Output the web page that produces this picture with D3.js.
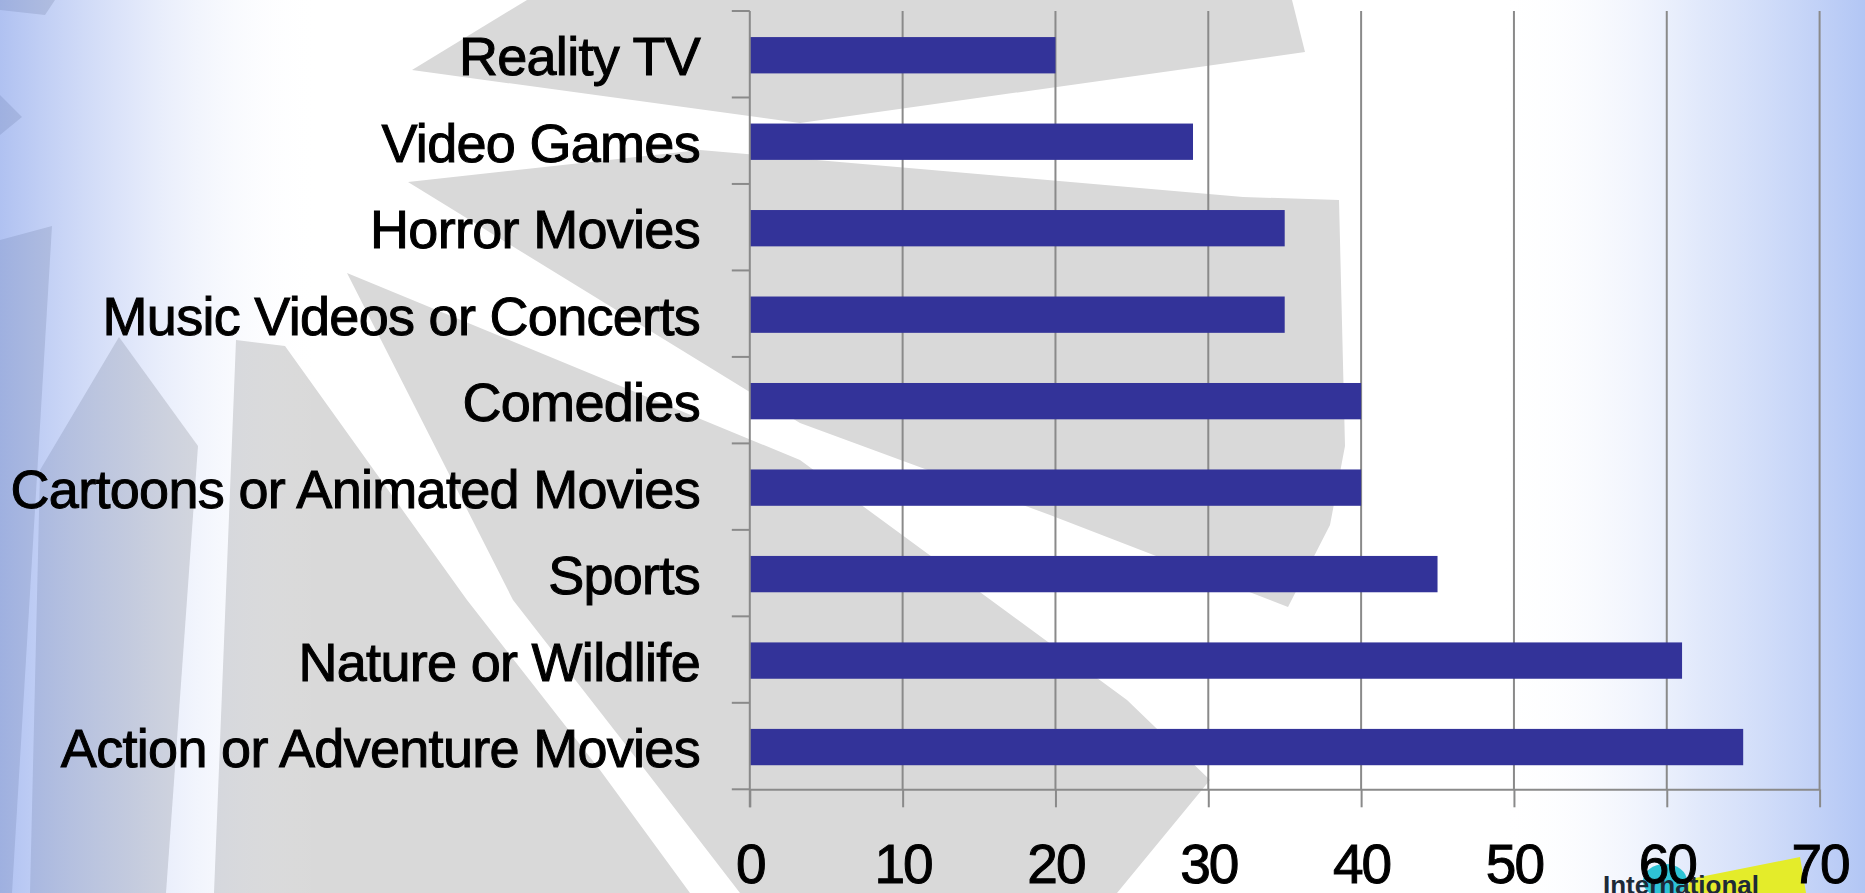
<!DOCTYPE html>
<html>
<head>
<meta charset="utf-8">
<title>Favourite kinds of programmes</title>
<script src="https://d3js.org/d3.v7.min.js"></script>
<style>
  body { margin: 0; overflow: hidden; background: #fff; }
  svg { display: block; }
  text { font-family: "Liberation Sans", Arial, sans-serif; }
</style>
</head>
<body>
<script>
  // data
  var categories = ["Reality TV", "Video Games", "Horror Movies", "Music Videos or Concerts",
                    "Comedies", "Cartoons or Animated Movies", "Sports", "Nature or Wildlife",
                    "Action or Adventure Movies"];
  var values = [20, 29, 35, 35, 40, 40, 45, 61, 65];
  var xTicks = [0, 10, 20, 30, 40, 50, 60, 70];

  var W = 1865, H = 893;
  var plotLeft = 749.8, plotRight = 1819.6, plotTop = 11, plotBottom = 789.3;

  var svg = d3.select("body").append("svg")
              .attr("width", W)
              .attr("height", H);

  // background: white slide with grey rays and blue edges
  var defs = svg.append("defs");
  var gl = defs.append("linearGradient").attr("id", "edgeL")
               .attr("gradientUnits", "userSpaceOnUse")
               .attr("x1", 0).attr("y1", 0).attr("x2", 320).attr("y2", 0);
  gl.append("stop").attr("offset", 0).attr("stop-color", "#6f8fe6").attr("stop-opacity", 0.55);
  gl.append("stop").attr("offset", 0.4).attr("stop-color", "#8aa4ec").attr("stop-opacity", 0.28);
  gl.append("stop").attr("offset", 1).attr("stop-color", "#ffffff").attr("stop-opacity", 0);

  var gr = defs.append("linearGradient").attr("id", "edgeR")
               .attr("gradientUnits", "userSpaceOnUse")
               .attr("x1", 1500).attr("y1", 0).attr("x2", 1865).attr("y2", 0);
  gr.append("stop").attr("offset", 0).attr("stop-color", "#ffffff").attr("stop-opacity", 0);
  gr.append("stop").attr("offset", 0.55).attr("stop-color", "#9ab4f2").attr("stop-opacity", 0.3);
  gr.append("stop").attr("offset", 1).attr("stop-color", "#7fa0ee").attr("stop-opacity", 0.6);

  svg.append("rect").attr("width", W).attr("height", H).attr("fill", "#ffffff");

  var rays = [
    [[527,0],[412,70],[800,123],[1305,52],[1292,0]],
    [[408,182],[700,150],[1243,197],[1339,200],[1345,446],[1330,525],[1288,607],[1050,515],[800,423]],
    [[347,273],[800,460],[1127,700],[1210,780],[1117,893],[740,893],[622,740],[513,600]],
    [[236,340],[285,346],[467,600],[600,770],[690,893],[214,893]],
    [[119,337],[198,446],[166,893],[30,893],[40,470]],
    [[0,240],[52,226],[12,893],[0,893]],
    [[0,0],[55,0],[45,15],[0,10]],
    [[0,95],[22,117],[0,135]]
  ];
  svg.selectAll("polygon.ray")
     .data(rays)
     .enter()
     .append("polygon")
     .attr("class", "ray")
     .attr("points", function(d) { return d.join(" "); })
     .attr("fill", "#d9d9d9");

  svg.append("rect").attr("x", 0).attr("width", 330).attr("height", H).attr("fill", "url(#edgeL)");
  svg.append("rect").attr("x", 1500).attr("width", 365).attr("height", H).attr("fill", "url(#edgeR)");

  // logo peeking in at the bottom right
  svg.append("ellipse").attr("cx", 1665).attr("cy", 881).attr("rx", 22).attr("ry", 17).attr("fill", "#2ec4d6");
  svg.append("polygon").attr("points", "1690,879 1800,857 1806,893 1686,893").attr("fill", "#e4ec2a");
  svg.append("text").attr("x", 1603).attr("y", 894)
     .attr("font-size", 26).attr("font-weight", "bold").attr("fill", "#1d2a38")
     .text("International");

  // scales
  var x = d3.scaleLinear().domain([0, 70]).range([plotLeft, plotRight]);
  var y = d3.scaleBand().domain(categories).range([plotTop, plotBottom])
            .paddingInner(0.58).paddingOuter(0.29);

  // vertical gridlines
  svg.selectAll("line.grid")
     .data(xTicks.slice(1))
     .enter()
     .append("line")
     .attr("class", "grid")
     .attr("x1", function(d) { return x(d); })
     .attr("x2", function(d) { return x(d); })
     .attr("y1", plotTop)
     .attr("y2", plotBottom)
     .attr("stroke", "#8a8a8a")
     .attr("stroke-width", 2);

  // bars
  svg.selectAll("rect.bar")
     .data(values)
     .enter()
     .append("rect")
     .attr("class", "bar")
     .attr("x", x(0))
     .attr("y", function(d, i) { return y(categories[i]) + 1; })
     .attr("width", function(d) { return x(d) - x(0); })
     .attr("height", y.bandwidth())
     .attr("fill", "#333399");

  // y axis: line, ticks between categories, labels
  svg.append("line")
     .attr("x1", plotLeft).attr("x2", plotLeft)
     .attr("y1", plotTop).attr("y2", plotBottom + 18)
     .attr("stroke", "#8a8a8a").attr("stroke-width", 2);

  var bounds = d3.range(categories.length + 1).map(function(i) { return plotTop + i * y.step(); });
  svg.selectAll("line.ytick")
     .data(bounds)
     .enter()
     .append("line")
     .attr("class", "ytick")
     .attr("x1", plotLeft - 18).attr("x2", plotLeft)
     .attr("y1", function(d) { return d; })
     .attr("y2", function(d) { return d; })
     .attr("stroke", "#8a8a8a").attr("stroke-width", 2);

  svg.selectAll("text.cat")
     .data(categories)
     .enter()
     .append("text")
     .attr("class", "cat")
     .attr("x", 700)
     .attr("y", function(d) { return y(d) + y.bandwidth() / 2 + 21; })
     .attr("text-anchor", "end")
     .attr("font-size", 54)
     .attr("letter-spacing", "-0.7px")
     .attr("fill", "#000")
     .attr("stroke", "#000")
     .attr("stroke-width", 1)
     .text(function(d) { return d; });

  // x axis
  var xAxis = svg.append("g")
                 .attr("transform", "translate(0," + plotBottom + ")")
                 .call(d3.axisBottom(x).tickValues(xTicks).tickSize(18).tickSizeOuter(0).tickPadding(37));
  xAxis.select(".domain").attr("stroke", "#8a8a8a").attr("stroke-width", 2);
  xAxis.selectAll(".tick line").attr("stroke", "#8a8a8a").attr("stroke-width", 2);
  xAxis.selectAll(".tick text")
       .attr("font-size", 55)
       .attr("font-family", "Liberation Sans, Arial, sans-serif")
       .attr("letter-spacing", "-2px")
       .attr("fill", "#000")
       .attr("stroke", "#000")
       .attr("stroke-width", 1);
</script>
</body>
</html>
